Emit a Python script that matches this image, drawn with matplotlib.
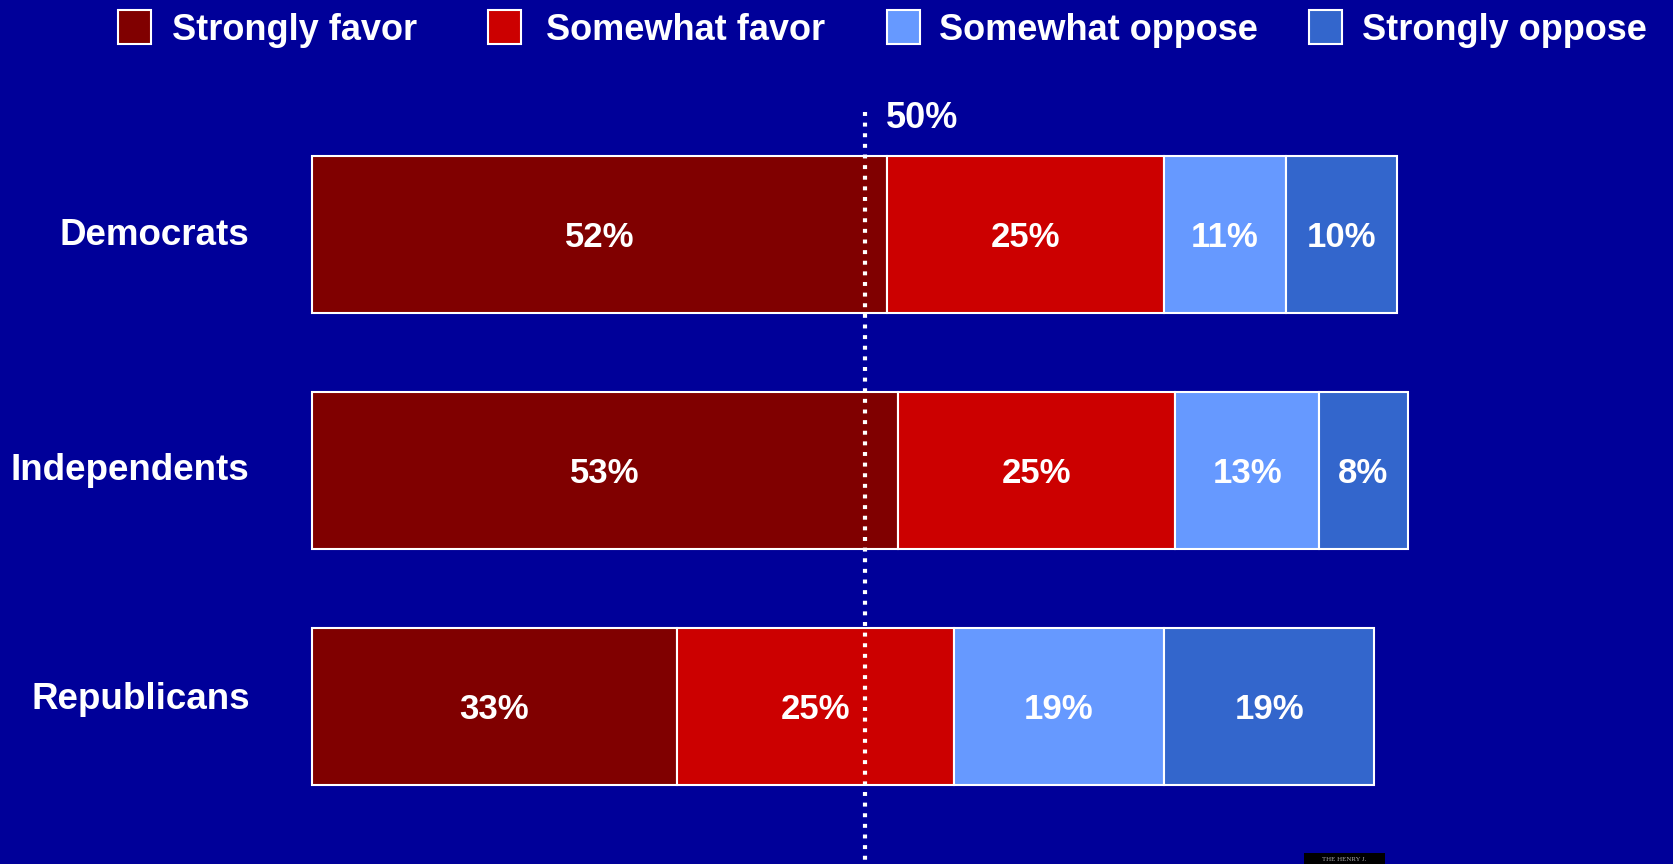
import numpy as np
import matplotlib
matplotlib.use("Agg")
import matplotlib.pyplot as plt
from matplotlib.patches import Rectangle

plt.rcParams['font.family'] = ['Liberation Sans', 'DejaVu Sans']

groups = ["Democrats", "Independents", "Republicans"]
responses = ["Strongly favor", "Somewhat favor", "Somewhat oppose", "Strongly oppose"]
strongly_favor = [52, 53, 33]
somewhat_favor = [25, 25, 25]
somewhat_oppose = [11, 13, 19]
strongly_oppose = [10, 8, 19]
colors = ["#800000", "#CC0000", "#6699FF", "#3366CC"]
bg = "#000099"

W, H = 1674, 864
fig = plt.figure(figsize=(W / 100, H / 100), dpi=100, facecolor=bg)
ax = fig.add_axes([0, 0, 1, 1])
ax.set_facecolor(bg)

# pixel layout: x=0 at 311.7 px, 11.07 px per percent; rows 236 px apart
px_per = 11.07
x0 = 311.7
ax.set_xlim(-x0 / px_per, (W - x0) / px_per)
ax.set_ylim((H - 234.5) / 236, -234.5 / 236)
ax.axis("off")

y = np.arange(len(groups))
series = [strongly_favor, somewhat_favor, somewhat_oppose, strongly_oppose]
left = np.zeros(len(groups))
for vals, c in zip(series, colors):
    vals = np.array(vals, dtype=float)
    ax.barh(y, vals, left=left, height=0.665, color=c, edgecolor="white", linewidth=1.5, zorder=2)
    for yi, l, v in zip(y, left, vals):
        ax.text(l + v / 2, yi + 0.012, f"{int(v)}%", ha="center", va="center", color="white",
                fontsize=25, fontweight="bold", zorder=4)
    left += vals

# group labels
label_offsets = [0.006, 0.0, -0.028]
for yi, g, off in zip(y, groups, label_offsets):
    ax.text(-5.6, yi + off, g, ha="right", va="center", color="white",
            fontsize=26.5, fontweight="bold")

# 50% reference line
ax.plot([50, 50], [-0.52, ax.get_ylim()[0]], color="white", lw=3,
        linestyle=(0, (0.95, 1.6)), solid_capstyle="butt", dash_capstyle="butt", zorder=3)
ax.text(51.9, -0.493, "50%", ha="left", va="center", color="white",
        fontsize=26, fontweight="bold")

# legend drawn by hand
box_x = [118.5, 487.9, 887.2, 1308.9]
text_x = [171.9, 545.5, 939.5, 1362.3]
for bx, tx, lab, c in zip(box_x, text_x, responses, colors):
    fig.patches.append(Rectangle((bx / W, 1 - 44 / H), 33 / W, 34 / H, transform=fig.transFigure,
                                 facecolor=c, edgecolor="white", linewidth=1.5))
    fig.text(tx / W, 1 - 30 / H, lab, ha="left", va="center", color="white",
             fontsize=26, fontweight="bold")

# small logo tag at the bottom
fig.patches.append(Rectangle((1304 / W, 0), 81 / W, 11 / H, transform=fig.transFigure,
                             facecolor="black", edgecolor="none"))
fig.text(1344 / W, 2 / H, "THE HENRY J.", ha="center", va="bottom", color="#aaaaaa",
         fontsize=5, family="Liberation Serif")

fig.savefig("out.png", dpi=100, facecolor=bg)
